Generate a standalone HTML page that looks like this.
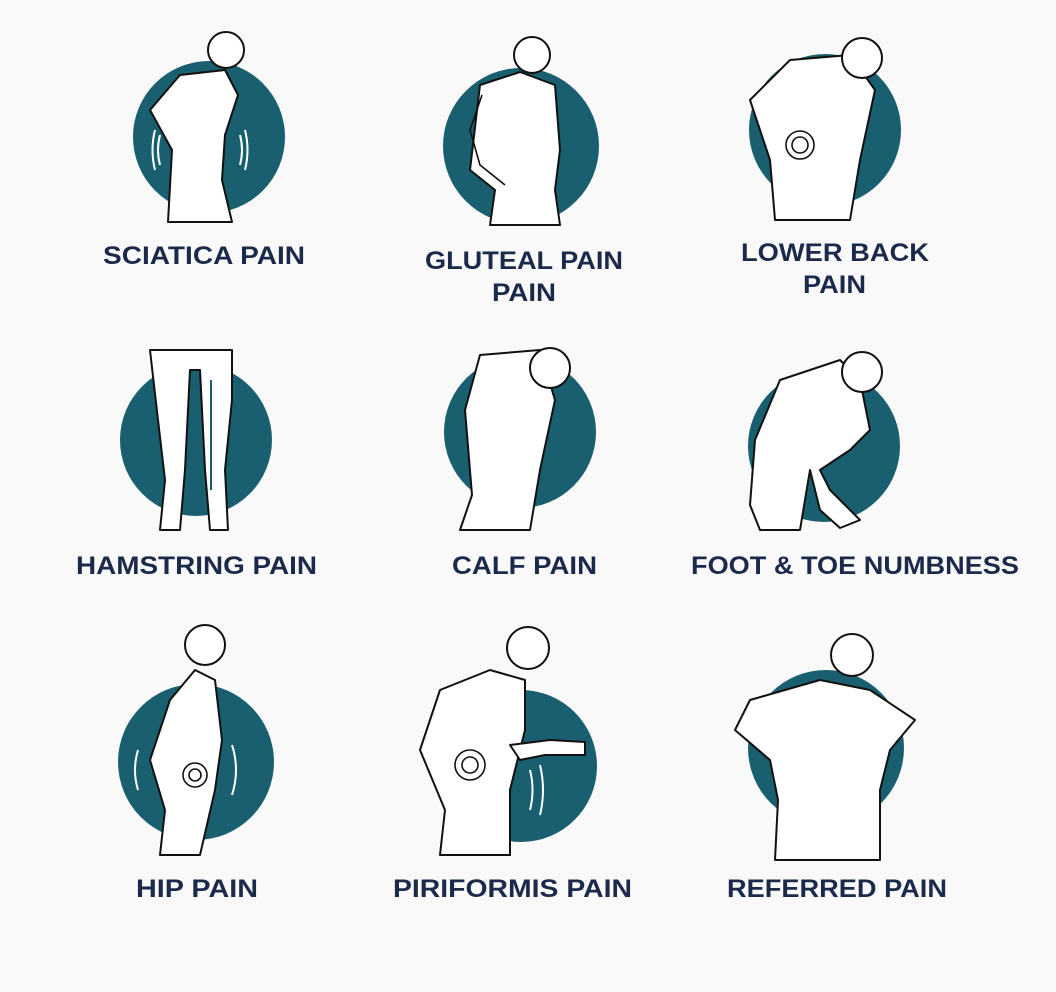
<!DOCTYPE html>
<html><head><meta charset="utf-8"><style>
html,body{margin:0;padding:0;background:#f9f9f9}
svg{display:block}
text{font-family:"Liberation Sans",sans-serif;font-weight:bold;fill:#1b2a4a;font-size:25px}
.f{fill:#fff;stroke:#111;stroke-width:2;stroke-linejoin:round}
.l{fill:none;stroke:#111;stroke-width:1.6}
.w{fill:none;stroke:#fff;stroke-width:2}
</style></head><body>
<svg width="1056" height="992" viewBox="0 0 1056 992">
<rect width="1056" height="992" fill="#f9f9f9"/>
<g fill="#1a5f6f">
<circle cx="209" cy="137" r="76"/><circle cx="521" cy="146" r="78"/><circle cx="825" cy="130" r="76"/>
<circle cx="196" cy="440" r="76"/><circle cx="520" cy="432" r="76"/><circle cx="824" cy="446" r="76"/>
<circle cx="196" cy="762" r="78"/><circle cx="521" cy="766" r="76"/><circle cx="826" cy="748" r="78"/>
</g>
<!-- row1 -->
<path class="f" d="M168 222 L172 150 L150 110 L180 75 L225 70 L238 95 L225 135 L222 180 L232 222 Z"/>
<circle class="f" cx="226" cy="50" r="18"/>
<path class="w" d="M155 130 Q150 150 155 170 M160 135 Q156 150 160 165 M245 130 Q250 150 245 170 M240 135 Q244 150 240 165"/>
<path class="f" d="M490 225 L495 190 L470 170 L480 85 L520 72 L555 85 L560 150 L555 190 L560 225 Z"/>
<circle class="f" cx="532" cy="55" r="18"/>
<path class="l" d="M482 95 L470 130 L480 165 L505 185"/>
<path class="f" d="M775 220 L770 160 L750 100 L790 60 L850 55 L875 90 L860 160 L850 220 Z"/>
<circle class="f" cx="862" cy="58" r="20"/>
<circle class="l" cx="800" cy="145" r="8"/><circle class="l" cx="800" cy="145" r="14"/>
<!-- row2 -->
<path class="f" d="M150 350 L158 420 L165 480 L160 530 L180 530 L185 470 L190 370 L200 370 L205 470 L210 530 L228 530 L225 470 L232 400 L232 350 Z"/>
<path d="M211 380 L211 490" stroke="#1a5f6f" stroke-width="2"/>
<path class="f" d="M460 530 L472 495 L465 410 L480 355 L540 350 L555 400 L540 470 L530 530 Z"/>
<circle class="f" cx="550" cy="368" r="20"/>
<path class="f" d="M750 505 L755 440 L780 380 L840 360 L860 380 L870 430 L850 450 L820 470 L830 490 L840 500 L860 520 L840 528 L820 510 L810 470 L800 530 L760 530 Z"/>
<circle class="f" cx="862" cy="372" r="20"/>
<!-- row3 -->
<path class="f" d="M160 855 L165 810 L150 760 L170 700 L195 670 L215 680 L222 740 L215 790 L200 855 Z"/>
<circle class="f" cx="205" cy="645" r="20"/>
<circle class="l" cx="195" cy="775" r="6"/><circle class="l" cx="195" cy="775" r="12"/>
<path class="w" d="M138 750 Q132 770 138 790 M232 745 Q240 770 232 795"/>
<path class="f" d="M440 855 L445 810 L420 750 L440 690 L490 670 L525 680 L525 730 L510 790 L510 855 Z"/>
<circle class="f" cx="528" cy="648" r="21"/>
<path class="f" d="M510 745 L550 740 L585 742 L585 755 L545 755 L520 760 Z"/>
<circle class="l" cx="470" cy="765" r="8"/><circle class="l" cx="470" cy="765" r="15"/>
<path class="w" d="M530 770 Q535 790 530 810 M540 765 Q546 790 540 815"/>
<path class="f" d="M775 860 L778 800 L770 760 L735 730 L750 700 L820 680 L870 690 L915 720 L890 750 L880 790 L880 860 Z"/>
<circle class="f" cx="852" cy="655" r="21"/>
<!-- labels -->
<g lengthAdjust="spacingAndGlyphs">
<text x="103" y="264" textLength="202" lengthAdjust="spacingAndGlyphs">SCIATICA PAIN</text>
<text x="425" y="269" textLength="198" lengthAdjust="spacingAndGlyphs">GLUTEAL PAIN</text>
<text x="492" y="301" textLength="64" lengthAdjust="spacingAndGlyphs">PAIN</text>
<text x="741" y="261" textLength="188" lengthAdjust="spacingAndGlyphs">LOWER BACK</text>
<text x="803" y="293" textLength="63" lengthAdjust="spacingAndGlyphs">PAIN</text>
<text x="76" y="574" textLength="241" lengthAdjust="spacingAndGlyphs">HAMSTRING PAIN</text>
<text x="452" y="574" textLength="145" lengthAdjust="spacingAndGlyphs">CALF PAIN</text>
<text x="691" y="574" textLength="328" lengthAdjust="spacingAndGlyphs">FOOT &amp; TOE NUMBNESS</text>
<text x="136" y="897" textLength="122" lengthAdjust="spacingAndGlyphs">HIP PAIN</text>
<text x="393" y="897" textLength="239" lengthAdjust="spacingAndGlyphs">PIRIFORMIS PAIN</text>
<text x="727" y="897" textLength="220" lengthAdjust="spacingAndGlyphs">REFERRED PAIN</text>
</g>
</svg>
</body></html>
